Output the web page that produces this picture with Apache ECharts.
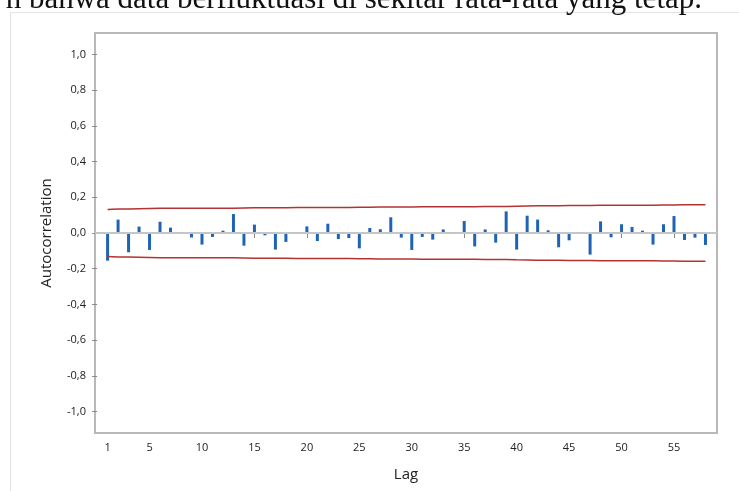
<!DOCTYPE html>
<html>
<head>
<meta charset="utf-8">
<script src="https://cdn.jsdelivr.net/npm/echarts@6/dist/echarts.min.js"></script>
<style>
  html, body { margin: 0; padding: 0; background: #fff; }
  #chart { width: 739px; height: 491px; }
</style>
</head>
<body>
<div id="chart"></div>
<script>
// Autocorrelation function by lag, with 5% significance limits
const lags = [];
for (let k = 1; k <= 58; k++) lags.push(k);

const acf = [
  -0.155, 0.075, -0.108, 0.036, -0.095, 0.063, 0.030, 0.004, -0.025, -0.065,
  -0.022, 0.013, 0.106, -0.071, 0.047, -0.013, -0.093, -0.050, 0.002, 0.037,
  -0.045, 0.052, -0.034, -0.028, -0.086, 0.028, 0.021, 0.088, -0.026, -0.095,
  -0.022, -0.037, 0.020, 0.002, 0.067, -0.075, 0.020, -0.054, 0.121, -0.093,
  0.097, 0.075, 0.015, -0.080, -0.041, 0.002, -0.121, 0.065, -0.024, 0.049,
  0.034, 0.013, -0.065, 0.049, 0.095, -0.039, -0.026, -0.067
];

const upperLimit = [
  0.131, 0.134, 0.135, 0.136, 0.137, 0.138, 0.138, 0.138, 0.138, 0.138,
  0.139, 0.139, 0.139, 0.140, 0.141, 0.141, 0.141, 0.142, 0.143, 0.143,
  0.143, 0.143, 0.143, 0.143, 0.144, 0.144, 0.145, 0.145, 0.145, 0.146,
  0.147, 0.147, 0.147, 0.147, 0.147, 0.147, 0.148, 0.148, 0.148, 0.150,
  0.151, 0.152, 0.153, 0.153, 0.154, 0.154, 0.154, 0.155, 0.156, 0.156,
  0.156, 0.156, 0.156, 0.157, 0.157, 0.158, 0.158, 0.158
];
const lowerLimit = upperLimit.map(v => -v);

const xTicks = [1, 5, 10, 15, 20, 25, 30, 35, 40, 45, 50, 55];
const yTicks = [-1, -0.8, -0.6, -0.4, -0.2, 0, 0.2, 0.4, 0.6, 0.8, 1];

const captionText = 'n bahwa data berfluktuasi di sekitar rata-rata yang tetap.';

const uiFont = '"Open Sans", "Noto Sans", sans-serif';
const pair = (xs, ys) => xs.map((x, i) => [x, ys[i]]);

const chart = echarts.init(document.getElementById('chart'), null, { renderer: 'canvas' });
chart.setOption({
  animation: false,
  backgroundColor: '#ffffff',
  grid: {
    left: 95, top: 33, right: 22, bottom: 58,
    show: true, borderColor: '#b8b8b8', borderWidth: 2, backgroundColor: '#ffffff'
  },
  graphic: [
    {
      type: 'polyline', silent: true, z: 0,
      shape: { points: [[10.5, 491], [10.5, 12.5], [739, 12.5]] },
      style: { stroke: '#e2e2e2', lineWidth: 1, fill: null }
    },
    {
      // running text of the page, sliced off at the top edge
      type: 'text', silent: true,
      x: 702, y: -16,
      style: {
        text: captionText, align: 'right', verticalAlign: 'top',
        font: '31px "Liberation Serif", "DejaVu Serif", serif', fill: '#111'
      }
    }
  ],
  xAxis: {
    type: 'value', min: -0.2, max: 59.1,
    name: 'Lag', nameLocation: 'middle', nameGap: 34,
    nameTextStyle: { fontFamily: uiFont, fontSize: 15, color: '#222' },
    axisLine: { show: false },
    splitLine: { show: false },
    axisTick: { show: true, length: 5, customValues: xTicks, lineStyle: { color: '#8a8a8a' } },
    axisLabel: { customValues: xTicks, margin: 9, fontFamily: uiFont, fontSize: 11, color: '#222' }
  },
  yAxis: {
    type: 'value', min: -1.12, max: 1.12,
    name: 'Autocorrelation', nameLocation: 'middle', nameGap: 41, nameRotate: 90,
    nameTextStyle: { fontFamily: uiFont, fontSize: 15, color: '#222' },
    axisLine: { show: false },
    splitLine: { show: false },
    axisTick: { show: true, length: 5, customValues: yTicks, lineStyle: { color: '#8a8a8a' } },
    axisLabel: {
      customValues: yTicks, margin: 9, fontFamily: uiFont, fontSize: 11, color: '#222',
      formatter: v => v.toFixed(1).replace('.', ',')
    }
  },
  series: [
    {
      type: 'bar', name: 'ACF',
      data: pair(lags, acf),
      barWidth: 3,
      itemStyle: { color: '#1f64b4' },
      markLine: {
        silent: true, symbol: 'none', label: { show: false },
        lineStyle: { color: '#c6c6c6', width: 2, type: 'solid' },
        data: [{ yAxis: 0 }]
      },
      z: 3
    },
    {
      type: 'line', name: 'Upper limit',
      data: pair(lags, upperLimit),
      symbol: 'none', lineStyle: { color: '#b53232', width: 1.5 }, z: 4
    },
    {
      type: 'line', name: 'Lower limit',
      data: pair(lags, lowerLimit),
      symbol: 'none', lineStyle: { color: '#b53232', width: 1.5 }, z: 4
    }
  ]
});
</script>
</body>
</html>
